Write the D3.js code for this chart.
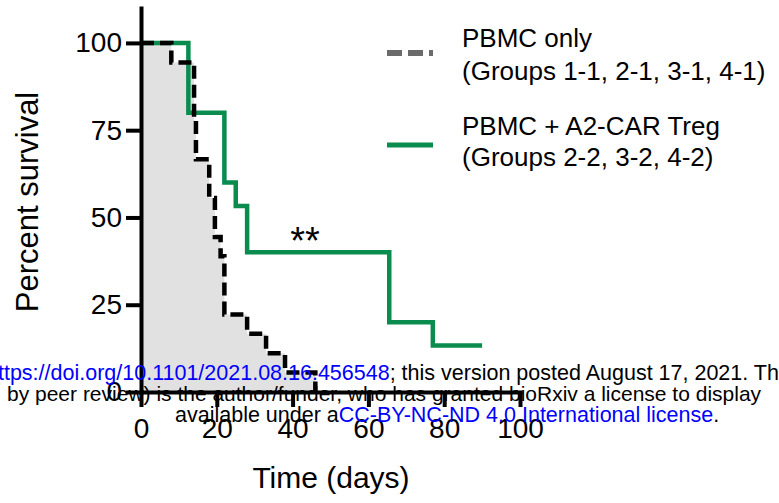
<!DOCTYPE html>
<html>
<head>
<meta charset="utf-8">
<script src="https://cdn.jsdelivr.net/npm/d3@7"></script>
<style>
  body { margin: 0; background: #fff; }
  svg { display: block; font-family: "Liberation Sans", Arial, Helvetica, sans-serif; }
</style>
</head>
<body>
<div id="chart"></div>
<script>
// Kaplan-Meier steps
const pbmcDays = [0, 8, 14, 14.5, 18, 19.5, 21, 22, 28, 33, 38, 46];
const pbmcSurv = [100, 94.4, 77.8, 66.7, 55.6, 44.4, 38.9, 22.2, 16.7, 11.1, 5.6, 0];
const carDays = [0, 12.5, 22, 25, 28, 65.5, 77, 90];
const carSurv = [100, 80, 60, 53.3, 40, 20, 13.3, 13.3];

const xTicks = [0, 20, 40, 60, 80, 100];
const yTicks = [0, 25, 50, 75, 100];

const legendLabels = [
  ["PBMC only", "(Groups 1-1, 2-1, 3-1, 4-1)"],
  ["PBMC + A2-CAR Treg", "(Groups 2-2, 3-2, 4-2)"]
];

const width = 779, height = 503;
const green = "#0a8c4e";

const svg = d3.select("#chart").append("svg")
  .attr("width", width)
  .attr("height", height);

const x = d3.scaleLinear().domain([0, 100]).range([141, 520]);
const y = d3.scaleLinear().domain([0, 110]).range([392, 8]);

const pbmc = pbmcDays.map((d, i) => ({day: d, s: pbmcSurv[i]}));
const car = carDays.map((d, i) => ({day: d, s: carSurv[i]}));

// grey area under PBMC-only curve
svg.append("path")
  .datum(pbmc)
  .attr("fill", "#e1e1e1")
  .attr("d", d3.area().curve(d3.curveStepAfter)
    .x(d => x(d.day)).y0(y(0)).y1(d => y(d.s)));

const line = d3.line().curve(d3.curveStepAfter)
  .x(d => x(d.day)).y(d => y(d.s));

svg.append("path")
  .datum(car)
  .attr("fill", "none")
  .attr("stroke", green)
  .attr("stroke-width", 4.5)
  .attr("d", line);

svg.append("path")
  .datum(pbmc)
  .attr("fill", "none")
  .attr("stroke", "#000")
  .attr("stroke-width", 4.5)
  .attr("stroke-dasharray", "13,6")
  .attr("d", line);

// axes
const yAxis = svg.append("g")
  .attr("transform", `translate(${x(0)},0)`)
  .call(d3.axisLeft(y).tickValues(yTicks).tickSize(15).tickSizeOuter(0).tickPadding(4));

const xAxis = svg.append("g")
  .attr("transform", `translate(0,${y(0)})`)
  .call(d3.axisBottom(x).tickValues(xTicks).tickSize(15).tickSizeOuter(0).tickPadding(11));

[xAxis, yAxis].forEach(g => {
  g.select(".domain").attr("stroke-width", 4).attr("stroke-linecap", "square");
  g.selectAll(".tick line").attr("stroke-width", 4);
  g.selectAll(".tick text")
    .attr("font-size", 28)
    .attr("font-family", "Liberation Sans, Arial, sans-serif")
    .attr("fill", "#000");
});

// axis titles
svg.append("text")
  .attr("transform", "translate(38,202) rotate(-90)")
  .attr("text-anchor", "middle")
  .attr("font-size", 31)
  .text("Percent survival");

svg.append("text")
  .attr("x", 331)
  .attr("y", 488)
  .attr("text-anchor", "middle")
  .attr("font-size", 30)
  .text("Time (days)");

// significance
svg.append("text")
  .attr("x", 305)
  .attr("y", 254)
  .attr("text-anchor", "middle")
  .attr("font-size", 38)
  .text("**");

// legend
const legend = svg.append("g");
legend.append("line")
  .attr("x1", 387).attr("x2", 433).attr("y1", 53).attr("y2", 53)
  .attr("stroke", "#6b6b6b").attr("stroke-width", 6)
  .attr("stroke-dasharray", "15,6");
legend.append("line")
  .attr("x1", 387).attr("x2", 433).attr("y1", 145).attr("y2", 145)
  .attr("stroke", green).attr("stroke-width", 5);

const legendY = [[47, 80], [135, 166]];
legendLabels.forEach((pair, i) => {
  pair.forEach((t, j) => {
    legend.append("text")
      .attr("x", 462)
      .attr("y", legendY[i][j])
      .attr("font-size", 26)
      .text(t);
  });
});

// bioRxiv watermark overlay
const wm = svg.append("g");
const l1 = wm.append("text").attr("x", -14).attr("y", 380).attr("font-size", 21.5);
l1.append("tspan").attr("fill", "#0000ff").text("https://doi.org/10.1101/2021.08.16.456548");
l1.append("tspan").attr("fill", "#000").text("; this version posted August 17, 2021. The copyright holder");

wm.append("text").attr("x", 7).attr("y", 401)
  .attr("font-size", 21)
  .attr("fill", "#000")
  .text("by peer review) is the author/funder, who has granted bioRxiv a license to display");

const l3 = wm.append("text").attr("x", 175).attr("y", 422).attr("font-size", 21.5);
l3.append("tspan").attr("fill", "#000").text("available under a");
l3.append("tspan").attr("fill", "#0000ff").text("CC-BY-NC-ND 4.0 International license");
l3.append("tspan").attr("fill", "#000").text(".");
</script>
</body>
</html>
